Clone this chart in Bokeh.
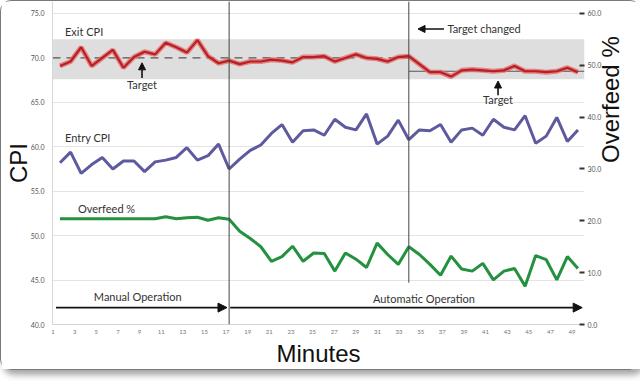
from bokeh.plotting import figure
from bokeh.models import (Range1d, LinearAxis, FixedTicker, PrintfTickFormatter,
                          BoxAnnotation, Label, Arrow, NormalHead, ColumnDataSource)
from bokeh.embed import file_html
from bokeh.resources import INLINE
import math

# ---------------- data ----------------
minutes = list(range(1, 51))
exit_cpi = [69.1, 69.6, 71.2, 69.1, 70.0, 70.9, 68.9, 70.1, 70.7, 70.4,
            71.7, 71.2, 70.6, 72.0, 70.2, 69.4, 69.7, 69.3, 69.6, 69.6,
            69.8, 69.7, 69.5, 70.1, 70.1, 70.2, 69.6, 70.0, 70.4, 70.0,
            69.9, 69.6, 70.1, 70.2, 69.3, 68.4, 68.4, 67.9, 68.6, 68.7,
            68.6, 68.5, 68.6, 69.1, 68.5, 68.5, 68.4, 68.5, 68.9, 68.4]
entry_cpi = [58.2, 59.4, 57.0, 58.0, 58.8, 57.5, 58.4, 58.4, 57.2, 58.3,
             58.5, 58.8, 59.9, 58.5, 59.0, 60.3, 57.5, 58.6, 59.6, 60.2,
             61.5, 62.5, 60.5, 61.8, 61.9, 61.3, 63.1, 62.2, 61.9, 63.7,
             60.3, 61.2, 63.0, 60.8, 61.9, 61.8, 62.5, 60.5, 61.9, 62.1,
             61.3, 63.1, 62.2, 61.9, 63.5, 60.4, 61.2, 63.3, 60.6, 61.9]
overfeed_pct = [20.4, 20.4, 20.4, 20.4, 20.4, 20.4, 20.4, 20.4, 20.4, 20.4,
                20.8, 20.4, 20.6, 20.7, 20.1, 20.6, 20.3, 18.0, 16.6, 15.0,
                12.2, 13.1, 15.1, 12.2, 13.8, 13.7, 10.3, 13.8, 12.6, 11.0,
                15.7, 13.5, 11.6, 15.0, 13.5, 11.6, 9.5, 13.2, 10.7, 10.3,
                11.8, 8.6, 10.3, 10.8, 7.4, 13.3, 12.5, 8.6, 13.1, 10.8]

tick_minutes = list(range(1, 50, 2))
cpi_ticks = [40.0, 45.0, 50.0, 55.0, 60.0, 65.0, 70.0, 75.0]
overfeed_ticks = [0.0, 10.0, 20.0, 30.0, 40.0, 50.0, 60.0]

target_band = [67.6, 72.1]          # grey target zone (CPI)
target_values = [70.0, 68.5]        # target before / after change
auto_start_minute = 17              # switch to automatic operation
target_change_minute = 34           # target changed

# ---------------- figure ----------------
x_lo, x_hi = 0.29, 50.62
y_top = 76.35
p = figure(frame_width=532, frame_height=323, output_backend="svg",
           toolbar_location=None,
           x_range=Range1d(x_lo, x_hi), y_range=Range1d(40, y_top),
           min_border_left=48, min_border_right=42, min_border_top=0,
           min_border_bottom=41, background_fill_color="white",
           border_fill_color="white", outline_line_color=None)
p.styles = {"border": "1.5px solid #7a7a7a", "border-radius": "11px",
            "box-shadow": "3px 5px 6px rgba(0,0,0,0.35)"}

p.extra_y_ranges = {"over": Range1d(0, (y_top - 40) * 60 / 35)}

TICKFONT = "Lato"
ANNFONT = "Lato"
TITLEFONT = "Liberation Sans"

# left axis
ax = p.yaxis[0]
ax.ticker = FixedTicker(ticks=cpi_ticks)
ax.formatter = PrintfTickFormatter(format="%.1f")
ax.major_tick_in = 0
ax.major_tick_out = 0
ax.minor_tick_in = 0
ax.minor_tick_out = 0
ax.major_tick_line_color = None
ax.minor_tick_line_color = None
ax.axis_line_color = "#d6d6d6"
ax.major_label_text_font = TICKFONT
ax.major_label_text_font_size = "7px"
ax.major_label_text_color = "#555555"
ax.major_label_standoff = 8
ax.axis_label = "CPI"
ax.axis_label_text_font = TITLEFONT
ax.axis_label_text_font_size = "24px"
ax.axis_label_text_font_style = "normal"
ax.axis_label_text_color = "#111111"
ax.axis_label_standoff = -4

# right axis
rax = LinearAxis(y_range_name="over", ticker=FixedTicker(ticks=overfeed_ticks),
                 formatter=PrintfTickFormatter(format="%.1f"))
rax.major_tick_in = 5
rax.major_tick_out = 0
rax.minor_tick_in = 0
rax.minor_tick_out = 0
rax.major_tick_line_width = 2
rax.major_tick_line_color = "#333333"
rax.minor_tick_line_color = None
rax.axis_line_color = None
rax.major_label_text_font = TICKFONT
rax.major_label_text_font_size = "7px"
rax.major_label_text_color = "#555555"
rax.major_label_standoff = 3
rax.axis_label = "Overfeed %"
rax.axis_label_text_font = TITLEFONT
rax.axis_label_text_font_size = "24px"
rax.axis_label_text_font_style = "normal"
rax.axis_label_text_color = "#111111"
rax.axis_label_standoff = 6
rax.axis_label_orientation = math.pi / 2
p.add_layout(rax, "right")

# bottom axis
xax = p.xaxis[0]
tick_pos = [0.34 + (k - 1) * 1.0229 for k in tick_minutes]
xax.ticker = FixedTicker(ticks=tick_pos)
xax.major_label_overrides = {t: str(k) for t, k in zip(tick_pos, tick_minutes)}
xax.major_tick_in = 0
xax.major_tick_out = 0
xax.minor_tick_in = 0
xax.minor_tick_out = 0
xax.major_tick_line_color = None
xax.minor_tick_line_color = None
xax.axis_line_color = "#d6d6d6"
xax.major_label_text_font = TICKFONT
xax.major_label_text_font_size = "6px"
xax.major_label_text_color = "#777777"
xax.major_label_standoff = 5
xax.axis_label = "Minutes"
xax.axis_label_text_font = TITLEFONT
xax.axis_label_text_font_size = "24px"
xax.axis_label_text_font_style = "normal"
xax.axis_label_text_color = "#111111"
xax.axis_label_standoff = 3

p.xgrid.grid_line_color = None
p.ygrid.grid_line_color = "#e4e4e4"
p.ygrid.grid_line_width = 1

# target band
p.add_layout(BoxAnnotation(bottom=target_band[0], top=target_band[1],
                           fill_color="#dedede", fill_alpha=1.0,
                           line_color=None, level="underlay"))

# target lines
p.segment(x0=[x_lo], y0=[target_values[0]], x1=[target_change_minute],
          y1=[target_values[0]], line_color="#555555", line_width=1.2,
          line_dash="8 6")
p.segment(x0=[target_change_minute], y0=[target_values[1]], x1=[x_hi],
          y1=[target_values[1]], line_color="#555555", line_width=1.2)

# series
src = ColumnDataSource(dict(m=minutes, exit=exit_cpi, entry=entry_cpi,
                            over=overfeed_pct))
p.line("m", "exit", source=src, line_color="#e46a6a", line_width=5, line_alpha=0.8)
p.line("m", "exit", source=src, line_color="#b81e23", line_width=2.2)
p.line("m", "entry", source=src, line_color="#5d5a9e", line_width=3)
p.line("m", "over", source=src, y_range_name="over", line_color="#23913f",
       line_width=3)

# event lines
p.add_layout(Arrow(x_start=auto_start_minute, y_start=40, x_end=auto_start_minute,
                   y_end=y_top, end=None, line_color="#444444", line_width=1))
p.add_layout(Arrow(x_start=target_change_minute, y_start=44.7,
                   x_end=target_change_minute, y_end=y_top, end=None,
                   line_color="#444444", line_width=1))

# operation arrows
op_y = 41.9
HEAD = dict(fill_color="#111111", line_color="#111111")
p.add_layout(Arrow(x_start=0.62, y_start=op_y, x_end=auto_start_minute - 0.2, y_end=op_y,
                   line_color="#111111", line_width=1.6, end=NormalHead(size=9, **HEAD)))
p.add_layout(Arrow(x_start=auto_start_minute + 0.1, y_start=op_y, x_end=50.4, y_end=op_y,
                   line_color="#111111", line_width=1.6, end=NormalHead(size=9, **HEAD)))

# target arrows
p.add_layout(Arrow(x_start=8.76, y_start=67.75, x_end=8.76, y_end=69.45,
                   line_color="#111111", line_width=1.6, end=NormalHead(size=7, **HEAD)))
p.add_layout(Arrow(x_start=42.44, y_start=65.8, x_end=42.44, y_end=67.4,
                   line_color="#111111", line_width=1.6, end=NormalHead(size=7, **HEAD)))
p.add_layout(Arrow(x_start=37.33, y_start=73.26, x_end=34.87, y_end=73.26,
                   line_color="#111111", line_width=1.6, end=NormalHead(size=7, **HEAD)))


def lab(x, y, text, align="left", size="11px"):
    p.add_layout(Label(x=x, y=y, text=text, text_align=align,
                       text_baseline="middle", text_font=ANNFONT,
                       text_font_size=size, text_color="#333333"))


lab(1.47, 73.0, "Exit CPI")
lab(8.76, 66.96, "Target", align="center")
lab(1.47, 61.0, "Entry CPI")
lab(2.7, 53.0, "Overfeed %")
lab(4.2, 43.2, "Manual Operation")
lab(30.6, 42.9, "Automatic Operation")
lab(37.65, 73.26, "Target changed")
lab(42.44, 65.3, "Target", align="center")

open("out.html", "w").write(file_html(p, INLINE))
